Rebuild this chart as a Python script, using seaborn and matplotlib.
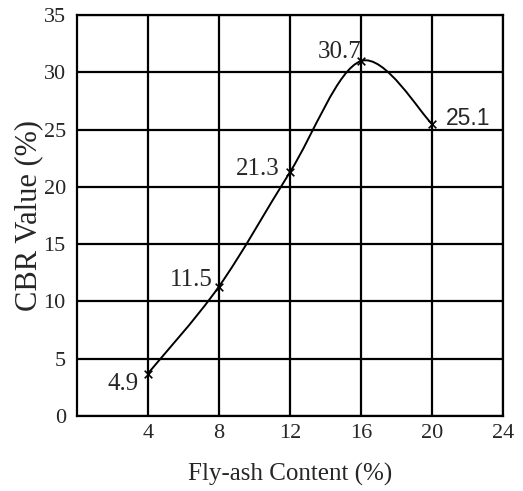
import matplotlib
matplotlib.use("Agg")
import matplotlib.pyplot as plt
import numpy as np
import pandas as pd
import seaborn as sns
from matplotlib.path import Path
from matplotlib.patches import PathPatch

# values
fly_ash = [4, 8, 12, 16, 20]
cbr_plotted = [3.7, 11.3, 21.3, 31.0, 25.5]
cbr_labels = ["4.9", "11.5", "21.3", "30.7", "25.1"]
x_ticks = [4, 8, 12, 16, 20, 24]
y_ticks = [0, 5, 10, 15, 20, 25, 30, 35]

# label offsets in pixels (dx, dy, ha)
label_offsets = [(-9, -10, "right"), (-6, 7, "right"), (-10, 3, "right"), (0, 9, "right"), (14, 5, "left")]


def smooth_path(xs, ys):
    # Catmull-Rom through the points, drawn as cubic Bezier segments
    pts = np.column_stack([xs, ys]).astype(float)
    padded = np.vstack([pts[0], pts, pts[-1]])
    verts = [tuple(pts[0])]
    codes = [Path.MOVETO]
    for i in range(1, len(padded) - 2):
        p0, p1, p2, p3 = padded[i - 1], padded[i], padded[i + 1], padded[i + 2]
        c1 = p1 + (p2 - p0) / 6.0
        c2 = p2 - (p3 - p1) / 6.0
        verts += [tuple(c1), tuple(c2), tuple(p2)]
        codes += [Path.CURVE4] * 3
    return Path(verts, codes)


df = pd.DataFrame({"fly_ash": fly_ash, "cbr": cbr_plotted})

sns.set_style("white")
plt.rcParams["font.family"] = ["Liberation Serif", "DejaVu Serif"]

fig = plt.figure(figsize=(5.23, 4.91), dpi=100)
ax = fig.add_axes([0.147, 0.153, 0.815, 0.816])

ax.add_patch(PathPatch(smooth_path(fly_ash, cbr_plotted), facecolor="none",
                       edgecolor="black", lw=1.4, zorder=3))
sns.scatterplot(data=df, x="fly_ash", y="cbr", marker="x", color="black",
                s=30, linewidth=1.2, ax=ax, zorder=4)

for x, y, lab, (dx, dy, ha) in zip(fly_ash, cbr_plotted, cbr_labels, label_offsets):
    if lab == "25.1":
        fam, fs = ["Liberation Sans"], 16.5
    else:
        fam, fs = ["Liberation Serif"], 18
    ax.annotate(lab, (x, y), xytext=(dx, dy), textcoords="offset pixels",
                ha=ha, va="center", fontsize=fs, family=fam)

ax.set_xlim(0, 24)
ax.set_ylim(0, 35)
ax.set_xticks(x_ticks)
ax.set_yticks(y_ticks)
ax.grid(True, color="black", lw=1.6)
ax.set_axisbelow(True)
for sp in ax.spines.values():
    sp.set_color("black")
    sp.set_linewidth(1.6)
ax.tick_params(axis="x", length=0, labelsize=16, pad=6)
ax.tick_params(axis="y", length=0, labelsize=16, pad=8)

ax.set_xlabel("Fly-ash Content (%)", fontsize=18, labelpad=14)
ax.set_ylabel("CBR Value (%)", fontsize=22, labelpad=0)

fig.savefig("out.png", dpi=100)
